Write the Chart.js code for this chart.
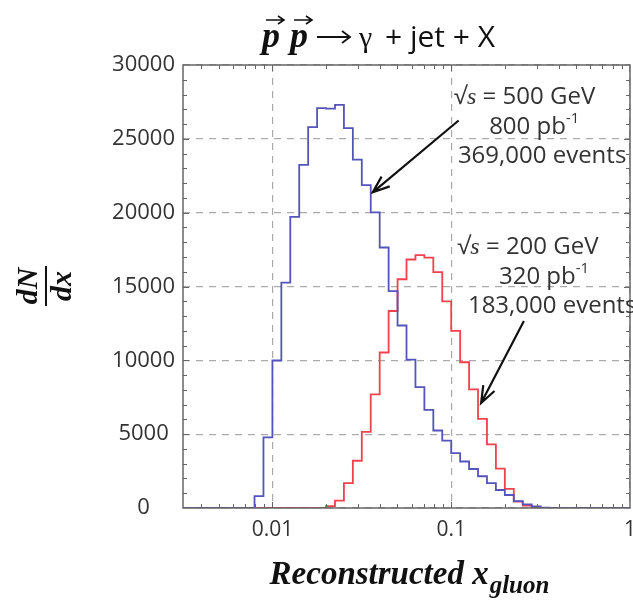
<!DOCTYPE html>
<html>
<head>
<meta charset="utf-8">
<script src="https://cdn.jsdelivr.net/npm/chart.js@4.4.0/dist/chart.umd.min.js"></script>
<style>
  html, body { margin: 0; padding: 0; background: #fff; }
  #wrap { width: 633px; height: 600px; }
</style>
</head>
<body>
<div id="wrap"><canvas id="chart" width="633" height="600"></canvas></div>
<script>
// histogram binning: log10(x) from -2.5 to 0, 20 bins per decade (50 bins)
const logXMin = -2.5;
const logXMax = 0;
const binsPerDecade = 20;

// dN/dx per bin, bin 0 starts at x = 10^-2.5
const counts500 = [
    0, 0, 0, 0, 0, 0, 0, 0, 810, 4780,
    9990, 15260, 19720, 23230, 25790, 27080, 27050, 27300, 25720, 23590,
    21870, 20020, 17640, 14690, 12360, 10050, 8190, 6640, 5250, 4560,
    3720, 3150, 2640, 2150, 1680, 1220, 880, 470, 240, 100,
    30, 0, 0, 0, 0, 0, 0, 0, 0, 0
];
const counts200 = [
    0, 0, 0, 0, 0, 0, 0, 0, 0, 0,
    0, 0, 0, 0, 0, 0, 130, 500, 1680, 3200,
    5160, 7700, 10530, 13340, 15490, 16830, 17120, 16950, 15980, 13990,
    11990, 9870, 8040, 6040, 4310, 2660, 1300, 430, 160, 40,
    0, 0, 0, 0, 0, 0, 0, 0, 0, 0
];

const xMajorTicks = [0.01, 0.1, 1];
const yTicks = [0, 5000, 10000, 15000, 20000, 25000, 30000];

// annotation text; each line has its own left edge (x value), top line at textY
const notes = [
    { energy: '500', lumi: '800', events: '369,000 events', textY: 27900,
      lineX: [0.1035, 0.163, 0.109],
      tail: [0.110, 26240], tip: [0.0364, 21380] },
    { energy: '200', lumi: '320', events: '183,000 events', textY: 17750,
      lineX: [0.108, 0.185, 0.124],
      tail: [0.255, 12660], tip: [0.147, 7110] }
];

const blue = 'rgb(84, 84, 188)';
const red = 'rgb(240, 66, 76)';
const gridGrey = '#aaaaaa';
const frameGrey = '#666666';
const textGrey = '#333333';
const noteFont = '24px "Open Sans"';

function binEdges() {
    const n = (logXMax - logXMin) * binsPerDecade;
    const edges = [];
    for (let i = 0; i <= n; i++) {
        edges.push(Math.pow(10, logXMin + i / binsPerDecade));
    }
    return edges;
}

// points at lower bin edges, one extra point closing the last bin
function histPoints(counts) {
    const edges = binEdges();
    return edges.map((e, i) => ({ x: e, y: counts[Math.min(i, counts.length - 1)] }));
}

// frame and the small inner tick marks on all four sides
const framePlugin = {
    id: 'frame',
    afterDraw(chart) {
        const { ctx, chartArea: a, scales } = chart;
        const xs = scales.x, ys = scales.y;
        ctx.save();
        ctx.strokeStyle = frameGrey;
        ctx.lineWidth = 1;
        for (let v = 1000; v < 30000; v += 1000) {
            const y = Math.round(ys.getPixelForValue(v)) + 0.5;
            const len = v % 5000 === 0 ? 6 : 4;
            ctx.beginPath();
            ctx.moveTo(a.left, y); ctx.lineTo(a.left + len, y);
            ctx.moveTo(a.right, y); ctx.lineTo(a.right - len, y);
            ctx.stroke();
        }
        for (let d = -3; d <= -1; d++) {
            for (let m = 1; m <= 9; m++) {
                const v = m * Math.pow(10, d);
                if (v < xs.min || v > xs.max) continue;
                const x = Math.round(xs.getPixelForValue(v)) + 0.5;
                const len = m === 1 ? 6 : 4;
                ctx.beginPath();
                ctx.moveTo(x, a.bottom); ctx.lineTo(x, a.bottom - len);
                ctx.moveTo(x, a.top); ctx.lineTo(x, a.top + len);
                ctx.stroke();
            }
        }
        ctx.lineWidth = 1.5;
        ctx.strokeRect(a.left, a.top, a.right - a.left, a.bottom - a.top);
        ctx.restore();
    }
};

function drawSqrtS(ctx, text, x, y) {
    // "√s = 500 GeV" with an italic s
    const it = 'italic 24px "Liberation Serif"';
    ctx.textAlign = 'left';
    ctx.font = noteFont; ctx.fillText('√', x, y);
    x += ctx.measureText('√').width;
    ctx.font = it; ctx.fillText('s', x, y);
    x += ctx.measureText('s').width;
    ctx.font = noteFont; ctx.fillText(text, x, y);
}

function drawLumi(ctx, lumi, x, y) {
    ctx.textAlign = 'left';
    ctx.font = noteFont; ctx.fillText(lumi + ' pb', x, y);
    const w = ctx.measureText(lumi + ' pb').width;
    ctx.font = '15px "Open Sans"'; ctx.fillText('-1', x + w, y - 11);
}

function drawArrow(ctx, x0, y0, x1, y1) {
    const ang = Math.atan2(y1 - y0, x1 - x0);
    const head = 18, spread = 0.36;
    ctx.beginPath();
    ctx.moveTo(x0, y0); ctx.lineTo(x1, y1);
    ctx.moveTo(x1 - head * Math.cos(ang - spread), y1 - head * Math.sin(ang - spread));
    ctx.lineTo(x1, y1);
    ctx.lineTo(x1 - head * Math.cos(ang + spread), y1 - head * Math.sin(ang + spread));
    ctx.stroke();
}

const notesPlugin = {
    id: 'notes',
    afterDraw(chart) {
        const { ctx, scales } = chart;
        const xs = scales.x, ys = scales.y;
        ctx.save();
        ctx.fillStyle = textGrey;
        ctx.textBaseline = 'alphabetic';
        notes.forEach(n => {
            const y0 = ys.getPixelForValue(n.textY);
            const lx = n.lineX.map(v => xs.getPixelForValue(v));
            drawSqrtS(ctx, ' = ' + n.energy + ' GeV', lx[0], y0 + 8);
            drawLumi(ctx, n.lumi, lx[1], y0 + 38);
            ctx.font = noteFont;
            ctx.textAlign = 'left';
            ctx.fillText(n.events, lx[2], y0 + 67);
            ctx.strokeStyle = '#111';
            ctx.lineWidth = 2.2;
            drawArrow(ctx,
                xs.getPixelForValue(n.tail[0]), ys.getPixelForValue(n.tail[1]),
                xs.getPixelForValue(n.tip[0]), ys.getPixelForValue(n.tip[1]));
        });
        ctx.restore();
    }
};

// title, axis titles (mixed fonts, so drawn by hand)
const labelsPlugin = {
    id: 'labels',
    afterDraw(chart) {
        const { ctx, chartArea: a } = chart;
        ctx.save();
        ctx.fillStyle = '#111';
        ctx.strokeStyle = '#111';
        ctx.textBaseline = 'alphabetic';
        ctx.textAlign = 'left';

        // reaction title: p p -> gamma + jet + X
        const pFont = 'bold italic 36px "Liberation Serif"';
        const sFont = '30px "Open Sans"';
        const ty = 47;
        let x = 262;
        ctx.lineWidth = 1.6;
        ctx.font = pFont;
        const pW = ctx.measureText('p').width;
        for (let i = 0; i < 2; i++) {
            ctx.fillText('p', x, ty);
            const ax0 = x + 4, ax1 = x + pW + 4, ay = 20;
            ctx.beginPath();
            ctx.moveTo(ax0, ay); ctx.lineTo(ax1, ay);
            ctx.moveTo(ax1 - 6, ay - 4); ctx.lineTo(ax1, ay); ctx.lineTo(ax1 - 6, ay + 4);
            ctx.stroke();
            x += pW + 10;
        }
        // reaction arrow
        const rx0 = 317, rx1 = 350, ry = 37;
        ctx.lineWidth = 1.8;
        ctx.beginPath();
        ctx.moveTo(rx0, ry); ctx.lineTo(rx1, ry);
        ctx.moveTo(rx1 - 8, ry - 6); ctx.lineTo(rx1, ry); ctx.lineTo(rx1 - 8, ry + 6);
        ctx.stroke();
        ctx.font = '30px "Liberation Serif"';
        ctx.fillText('γ', 359, ty);
        ctx.font = sFont;
        ctx.fillText('+ jet + X', 385, ty);

        // x axis title
        const xf = 'bold italic 33px "Liberation Serif"';
        const sub = 'bold italic 25px "Liberation Serif"';
        ctx.font = xf; const w1 = ctx.measureText('Reconstructed x').width;
        ctx.font = sub; const w2 = ctx.measureText('gluon').width;
        const xx = 409 - (w1 + w2) / 2;
        ctx.font = xf; ctx.fillText('Reconstructed x', xx, 584);
        ctx.font = sub; ctx.fillText('gluon', xx + w1 + 1, 593);

        // y axis title: dN/dx, turned on its side
        ctx.translate(46, 286);
        ctx.rotate(-Math.PI / 2);
        ctx.font = 'bold italic 30px "Liberation Serif"';
        ctx.textAlign = 'center';
        ctx.fillText('dN', 0, -9);
        ctx.fillText('dx', 0, 25);
        ctx.fillRect(-20, -1, 40, 2);
        ctx.restore();
    }
};

function buildChart() {
    const ctx = document.getElementById('chart');
    return new Chart(ctx, {
        type: 'line',
        data: {
            datasets: [
                {
                    label: '500 GeV',
                    data: histPoints(counts500),
                    borderColor: blue,
                    borderWidth: 1.8,
                    stepped: true,
                    pointRadius: 0,
                    fill: false
                },
                {
                    label: '200 GeV',
                    data: histPoints(counts200),
                    borderColor: red,
                    borderWidth: 1.8,
                    stepped: true,
                    pointRadius: 0,
                    fill: false
                }
            ]
        },
        options: {
            responsive: false,
            animation: false,
            layout: { padding: { left: 0, right: 3, top: 65, bottom: 0 } },
            plugins: {
                legend: { display: false },
                tooltip: { enabled: false }
            },
            scales: {
                x: {
                    type: 'logarithmic',
                    min: Math.pow(10, logXMin),
                    max: Math.pow(10, logXMax),
                    afterBuildTicks: scale => {
                        scale.ticks = xMajorTicks.map(v => ({ value: v }));
                    },
                    afterFit: scale => {
                        scale.height = 92;
                        scale.paddingLeft = 0;
                        scale.paddingRight = 0;
                    },
                    ticks: {
                        autoSkip: false,
                        maxRotation: 0,
                        padding: 9,
                        color: textGrey,
                        font: { family: 'Open Sans', size: 21 },
                        callback: v => String(v)
                    },
                    grid: { color: gridGrey, lineWidth: 1.2, drawTicks: false },
                    border: { display: false, dash: [7, 6] }
                },
                y: {
                    min: 0,
                    max: 30000,
                    afterBuildTicks: scale => {
                        scale.ticks = yTicks.map(v => ({ value: v }));
                    },
                    afterFit: scale => {
                        scale.width = 183;
                        scale.paddingTop = 0;
                        scale.paddingBottom = 0;
                    },
                    ticks: {
                        crossAlign: 'center',
                        padding: 8,
                        color: textGrey,
                        font: { family: 'Open Sans', size: 22 },
                        callback: v => String(v)
                    },
                    grid: { color: gridGrey, lineWidth: 1.2, drawTicks: false },
                    border: { display: false, dash: [7, 6] }
                }
            }
        },
        plugins: [framePlugin, notesPlugin, labelsPlugin]
    });
}

document.addEventListener('DOMContentLoaded', () => {
    window.xgChart = buildChart();
});
</script>
</body>
</html>
